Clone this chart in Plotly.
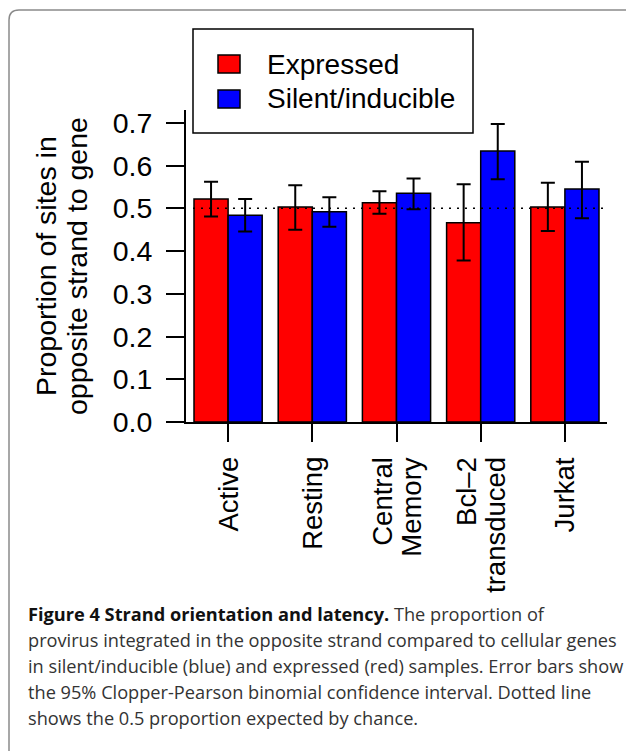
import plotly.graph_objects as go

# ---------------- data ----------------
categories = ["Active", "Resting", "Central Memory", "Bcl–2 transduced", "Jurkat"]
category_lines = [["Active"], ["Resting"], ["Central", "Memory"], ["Bcl–2", "transduced"], ["Jurkat"]]
series_names = ["Expressed", "Silent/inducible"]
series_colors = ["#FF0000", "#0000FF"]

expressed = [0.522, 0.503, 0.513, 0.466, 0.503]
expressed_hi = [0.562, 0.554, 0.540, 0.556, 0.560]
expressed_lo = [0.481, 0.450, 0.487, 0.378, 0.447]

silent = [0.484, 0.492, 0.535, 0.634, 0.545]
silent_hi = [0.522, 0.526, 0.570, 0.697, 0.609]
silent_lo = [0.446, 0.457, 0.498, 0.568, 0.477]

y_ticks = [0.0, 0.1, 0.2, 0.3, 0.4, 0.5, 0.6, 0.7]
chance = 0.5

caption_lines = [
    "<b style='color:#111111'>Figure 4 Strand orientation and latency.</b> The proportion of",
    "provirus integrated in the opposite strand compared to cellular genes",
    "in silent/inducible (blue) and expressed (red) samples. Error bars show",
    "the 95% Clopper-Pearson binomial confidence interval. Dotted line",
    "shows the 0.5 proportion expected by chance.",
]

# ---------------- layout geometry (pixels) ----------------
W, H = 626, 751
L, R, T, B = 186, 607, 110, 422
FONT = "Liberation Sans, Arial, Helvetica, sans-serif"
CAP_FONT = "Open Sans, Noto Sans, sans-serif"


def px(xp):
    return (xp - L) / (R - L)


def py(yp):
    return (B - yp) / (B - T)


fig = go.Figure()

for name, vals, hi, lo, col in [
    (series_names[0], expressed, expressed_hi, expressed_lo, series_colors[0]),
    (series_names[1], silent, silent_hi, silent_lo, series_colors[1]),
]:
    fig.add_trace(go.Bar(
        x=categories, y=vals, name=name,
        marker=dict(color=col, line=dict(color="black", width=1.5)),
        error_y=dict(type="data", symmetric=False,
                     array=[h - v for h, v in zip(hi, vals)],
                     arrayminus=[v - l for v, l in zip(vals, lo)],
                     color="black", thickness=2, width=7),
        showlegend=False,
    ))

shapes = []
annotations = []

# dotted chance line
shapes.append(dict(type="line", xref="paper", yref="y", x0=px(193), x1=1,
                   y0=chance, y1=chance, layer="above",
                   line=dict(color="black", width=1.5, dash="2px,6px")))

# legend (manual)
shapes.append(dict(type="rect", xref="paper", yref="paper",
                   x0=px(193), x1=px(473), y0=py(29), y1=py(133),
                   line=dict(color="black", width=1.5), fillcolor="white"))
for i, (nm, col) in enumerate(zip(series_names, series_colors)):
    yc = 64 + i * 35
    shapes.append(dict(type="rect", xref="paper", yref="paper",
                       x0=px(218), x1=px(240), y0=py(yc - 9), y1=py(yc + 9),
                       line=dict(color="black", width=1.5), fillcolor=col))
    annotations.append(dict(text=nm, xref="paper", yref="paper", x=px(265), y=py(yc),
                            xanchor="left", yanchor="middle", showarrow=False,
                            font=dict(family=FONT, size=28, color="black")))

# figure frame (rounded top-left corner)
x9, y10 = px(9), py(10)
frame_path = (f"M {x9},{py(800)} L {x9},{py(20)} Q {x9},{y10} {px(19)},{y10} L {px(700)},{y10}")
shapes.append(dict(type="path", xref="paper", yref="paper", path=frame_path,
                   line=dict(color="#8a8a8a", width=1.5)))

# y-axis title (two lines)
for text, xc in [("Proportion of sites in", 46), ("opposite strand to gene", 77)]:
    annotations.append(dict(text=text, xref="paper", yref="paper", x=px(xc), y=py((T + B) / 2),
                            xanchor="center", yanchor="middle", textangle=-90, showarrow=False,
                            font=dict(family=FONT, size=28.5, color="black")))

# category labels (rotated, lines side by side)
for cat, lines in zip(categories, category_lines):
    n = len(lines)
    for j, line in enumerate(lines):
        shift = (j - (n - 1) / 2) * 28.5
        annotations.append(dict(text=line, xref="x", yref="paper", x=cat, y=py(455),
                                xshift=shift, xanchor="center", yanchor="top",
                                textangle=-90, showarrow=False,
                                font=dict(family=FONT, size=27.5, color="black")))

# caption
for k, line in enumerate(caption_lines):
    annotations.append(dict(text=line, xref="paper", yref="paper", x=px(26), y=py(614 + 26 * k),
                            xanchor="left", yanchor="middle", showarrow=False, align="left",
                            font=dict(family=CAP_FONT, size=18.2, color="#333333")))

fig.update_layout(
    width=W, height=H,
    margin=dict(l=L, r=W - R, t=T, b=H - B, pad=0),
    paper_bgcolor="white", plot_bgcolor="white",
    barmode="group", bargap=0.19, bargroupgap=0,
    shapes=shapes, annotations=annotations,
    font=dict(family=FONT, color="black"),
    xaxis=dict(showline=True, linecolor="black", linewidth=2, ticks="outside",
               ticklen=18, tickwidth=2, tickcolor="black", showticklabels=False,
               showgrid=False, zeroline=False, range=[-0.5, 4.5]),
    yaxis=dict(range=[0, 0.73], showline=True, linecolor="black", linewidth=2,
               ticks="outside", ticklen=18, tickwidth=2, tickcolor="black",
               tickvals=y_ticks, ticktext=[f"{v:.1f}" for v in y_ticks],
               tickfont=dict(family=FONT, size=28.5, color="black"),
               ticklabelstandoff=8, showgrid=False, zeroline=False),
)

fig.write_html("out.html", config={"displayModeBar": False},
               post_script="document.body.style.margin='0px';")
